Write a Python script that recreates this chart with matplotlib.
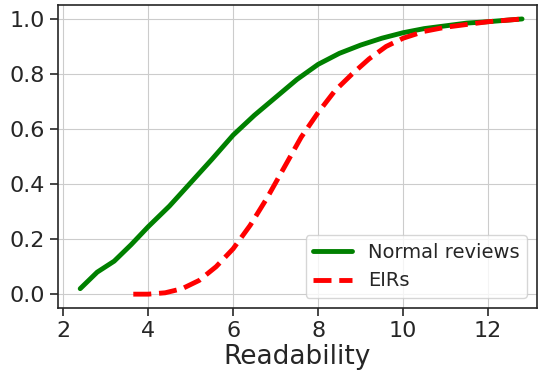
import matplotlib
matplotlib.use("Agg")
from matplotlib import pyplot as plt
import seaborn as sns

# CDF of readability scores
normal_x = [2.4, 2.8, 3.2, 3.6, 4.0, 4.5, 5.0, 5.5, 6.0, 6.5, 7.0, 7.5, 8.0,
            8.5, 9.0, 9.5, 10.0, 10.5, 11.0, 11.5, 12.0, 12.4, 12.8]
normal_y = [0.02, 0.08, 0.12, 0.18, 0.245, 0.32, 0.405, 0.49, 0.578, 0.65,
            0.715, 0.78, 0.835, 0.875, 0.905, 0.93, 0.95, 0.965, 0.975,
            0.985, 0.99, 0.995, 1.0]

eir_x = [3.65, 4.0, 4.4, 4.8, 5.2, 5.6, 6.0, 6.4, 6.8, 7.2, 7.6, 8.0, 8.4,
         8.8, 9.2, 9.6, 10.0, 10.5, 11.0, 11.5, 12.0, 12.4, 12.8]
eir_y = [0.0, 0.0, 0.005, 0.02, 0.05, 0.1, 0.165, 0.25, 0.35, 0.46, 0.57,
         0.66, 0.74, 0.8, 0.855, 0.9, 0.93, 0.955, 0.97, 0.98, 0.99, 0.995, 1.0]

sns.set_style("ticks", {"axes.grid": True})
plt.rcParams["font.family"] = ["DejaVu Sans"]

fig, ax = plt.subplots(figsize=(5.38, 3.71), dpi=100)
fig.subplots_adjust(left=0.108, right=0.998, top=0.986, bottom=0.17)

ax.plot(normal_x, normal_y, color="green", lw=3.5, label="Normal reviews")
ax.plot(eir_x, eir_y, color="red", lw=3.5, ls="--", label="EIRs")

ax.set_xlim(1.88, 13.15)
ax.set_ylim(-0.05, 1.05)
ax.set_xticks([2, 4, 6, 8, 10, 12])
ax.set_yticks([0.0, 0.2, 0.4, 0.6, 0.8, 1.0])
ax.tick_params(labelsize=16, length=6, width=1.2)
for s in ax.spines.values():
    s.set_linewidth(1.2)
ax.set_xlabel("Readability", fontsize=19, labelpad=2)
ax.legend(loc="lower right", fontsize=14)

plt.savefig("out.png", dpi=100)
